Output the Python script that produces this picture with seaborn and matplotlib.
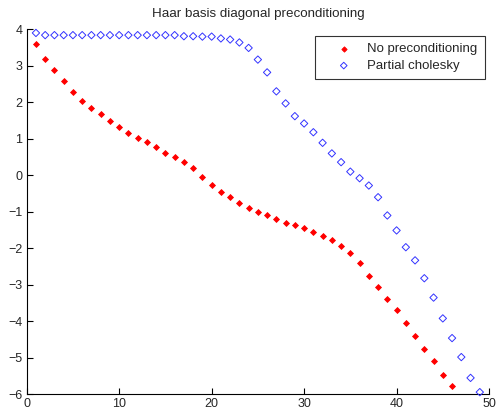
import numpy as np
import pandas as pd
import matplotlib
matplotlib.use("Agg")
import matplotlib.pyplot as plt
import seaborn as sns

title = "Haar basis diagonal preconditioning"
labels = ["No preconditioning", "Partial cholesky"]

no_precond = [3.59, 3.20, 2.88, 2.58, 2.29, 2.04, 1.85, 1.67, 1.48, 1.31,
              1.15, 1.03, 0.92, 0.78, 0.62, 0.49, 0.36, 0.19, -0.04, -0.27,
              -0.45, -0.60, -0.77, -0.89, -1.01, -1.10, -1.19, -1.30, -1.36, -1.43,
              -1.54, -1.65, -1.76, -1.95, -2.12, -2.40, -2.76, -3.06, -3.38, -3.69,
              -4.05, -4.40, -4.75, -5.10, -5.47, -5.77]
partial_chol = [3.90, 3.84, 3.84, 3.84, 3.84, 3.84, 3.84, 3.84, 3.84, 3.84,
                3.84, 3.84, 3.84, 3.84, 3.84, 3.84, 3.81, 3.81, 3.80, 3.80,
                3.75, 3.72, 3.64, 3.49, 3.17, 2.82, 2.30, 1.97, 1.62, 1.42,
                1.18, 0.89, 0.60, 0.36, 0.10, -0.08, -0.28, -0.60, -1.10, -1.51,
                -1.97, -2.33, -2.82, -3.35, -3.92, -4.46, -4.98, -5.55, -5.94]

df = pd.concat([
    pd.DataFrame({"x": np.arange(1, len(no_precond) + 1), "y": no_precond, "series": labels[0]}),
    pd.DataFrame({"x": np.arange(1, len(partial_chol) + 1), "y": partial_chol, "series": labels[1]}),
])

sns.set_style("white")
plt.rcParams['font.family'] = ['Liberation Sans', 'DejaVu Sans']

fig = plt.figure(figsize=(4.97, 4.11), dpi=100)
ax = fig.add_axes([0.0537, 0.0406, 0.9303, 0.8881])

sub = df[df.series == labels[0]]
sns.scatterplot(data=sub, x="x", y="y", ax=ax, marker="D", s=9, color="red",
                edgecolor="red", linewidth=0.6, label=labels[0], clip_on=False, zorder=3)
sub = df[df.series == labels[1]]
sns.scatterplot(data=sub, x="x", y="y", ax=ax, marker="D", s=14, facecolor="none",
                edgecolor="#3333ff", linewidth=0.7, label=labels[1], clip_on=False, zorder=3)

ax.set_xlim(0, 50)
ax.set_ylim(-6, 4)
ax.set_xticks(range(0, 51, 10))
ax.set_yticks(range(-6, 5, 1))
ax.set_xlabel("")
ax.set_ylabel("")
ax.set_title(title, fontsize=9.6, pad=9)
for s in ["top", "right"]:
    ax.spines[s].set_visible(False)
for s in ["left", "bottom"]:
    ax.spines[s].set_color("black")
    ax.spines[s].set_linewidth(0.8)
ax.tick_params(direction="in", length=4, width=0.8, color="black", labelsize=9,
               left=True, bottom=True, pad=3)

ax_w = 0.9303 * 497
ax_h = 0.8881 * 411
bx = (485 - 0.0537 * 497) / ax_w
by = (411 - 0.0406 * 411 - 35.7) / ax_h
leg = ax.legend(loc="upper right", bbox_to_anchor=(bx, by), borderaxespad=0,
                fontsize=9.5, frameon=True, fancybox=False, edgecolor="black",
                borderpad=0.55, handlelength=3.2, handletextpad=0.2,
                labelspacing=0.35, markerscale=0.9)
leg.get_frame().set_linewidth(0.8)

fig.savefig("out.png", dpi=100)
